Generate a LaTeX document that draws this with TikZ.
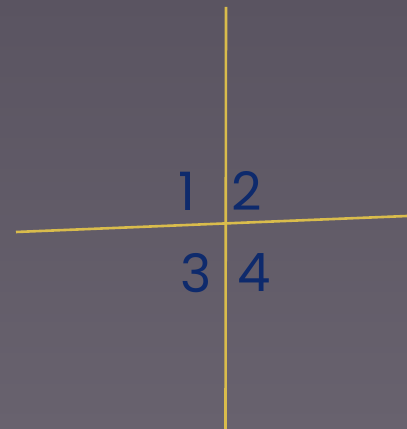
\documentclass[tikz,border=0pt]{standalone}
\usepackage{fontspec}
\newfontfamily\quadfont{Poppins}
\usepackage{tikz}
\definecolor{bgtop}{HTML}{5A5461}
\definecolor{bgbot}{HTML}{68626E}
\definecolor{axisyellow}{HTML}{D9BC4C}
\definecolor{quadblue}{HTML}{0E2A6C}
\begin{document}
\begin{tikzpicture}[x=1pt, y=1pt,
  axis/.style={draw=axisyellow, line width=2.6pt},
  quad/.style={text=quadblue, inner sep=0pt, font=\quadfont\fontsize{53}{53}\selectfont}]
\shade[top color=bgtop, bottom color=bgbot] (0,0) rectangle (407,429);
\useasboundingbox (0,0) rectangle (407,429);
% axes
\coordinate (vtop) at (226,422);
\coordinate (vbot) at (225.5,0);
\coordinate (hleft) at (16,197);
\coordinate (hright) at (407,213);
\draw[axis] (vtop) -- (vbot);
\draw[axis] (hleft) -- (hright);
% quadrant numbers
\node[quad] (q1) at (187,238) {1};
\node[quad] (q2) at (247,238) {2};
\node[quad] (q3) at (196,156) {3};
\node[quad] (q4) at (254,156) {4};
\end{tikzpicture}
\end{document}
